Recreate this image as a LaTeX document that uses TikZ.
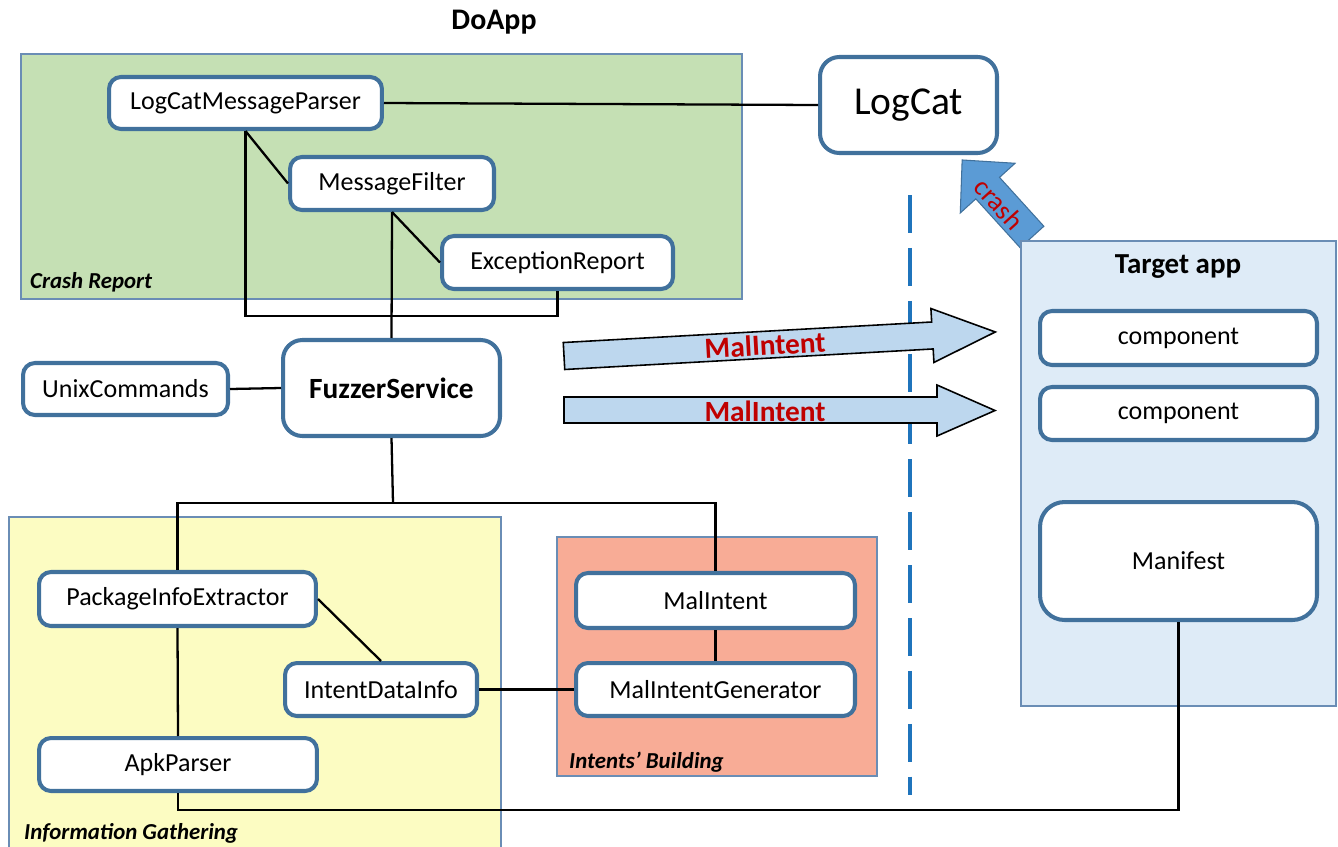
\documentclass[tikz,border=0pt]{standalone}
\usepackage{fontspec}
\setmainfont{Carlito}
\definecolor{boxblue}{HTML}{41719C}
\definecolor{areaedge}{HTML}{6A8DB5}
\definecolor{crashgreen}{HTML}{C5E0B4}
\definecolor{infoyellow}{HTML}{FCFCC2}
\definecolor{intentred}{HTML}{F8AC96}
\definecolor{targetblue}{HTML}{DEEBF7}
\definecolor{arrowblue}{HTML}{BDD7EE}
\definecolor{crashblue}{HTML}{5B9BD5}
\definecolor{dashblue}{HTML}{1F74BC}
\definecolor{crashred}{HTML}{C00000}

\begin{document}
\begin{tikzpicture}
[x=0.02cm,y=-0.02cm,
 bluebox/.style={draw=boxblue,line width=2.3pt,rounded corners=6.8pt,fill=white,inner sep=0pt,font=\fontsize{14.8}{17}\selectfont},
 bigbox/.style={bluebox,rounded corners=11pt},
 area/.style={draw=areaedge,line width=0.8pt},
 arealabel/.style={anchor=west,font=\fontsize{13}{15}\selectfont\bfseries\itshape},
 blackline/.style={black,line width=1.3pt},
 bluedash/.style={dashblue,line width=2.3pt,dash pattern=on 21.6pt off 8.5pt},
 msgarrow/.style={draw=black,line width=0.9pt,fill=arrowblue},
 msglabel/.style={font=\fontsize{16.7}{19}\selectfont\bfseries,text=crashred}]

\useasboundingbox (0,0) rectangle (1338,846);

% title
\node[font=\fontsize{17}{20}\selectfont\bfseries](title) at (494,22){DoApp};

% areas
\draw[area,fill=crashgreen] (21,54) rectangle (742,299);
\node[arealabel](reportlbl) at (24,282){Crash Report};
\draw[area,fill=infoyellow] (9,517) rectangle (501,852);
\node[arealabel](infolbl) at (18,833){Information Gathering};
\draw[area,fill=intentred] (557,537) rectangle (877,776);
\node[arealabel](buildlbl) at (563,762){Intents’ Building};

% crash arrow (under the target app)
\begin{scope}[shift={(1032,237)},rotate=132.2]
\draw[draw=boxblue,line width=0.6pt,fill=crashblue] (0,-16) -- (66,-16) -- (66,-37) -- (104,0) -- (66,37) -- (66,16) -- (0,16) -- cycle;
\end{scope}
\node[rotate=-47.8,text=crashred,font=\fontsize{15.5}{18}\selectfont](crashlbl) at (999,204){crash};

% target app
\draw[area,fill=targetblue] (1021,241) rectangle (1336,706);
\node[font=\fontsize{16.5}{19}\selectfont\bfseries](targetlbl) at (1178,267){Target app};
\node[bluebox,minimum width=5.54cm,minimum height=1.08cm](comp1) at (1178.5,338){component};
\node[bluebox,minimum width=5.54cm,minimum height=1.06cm](comp2) at (1178.5,413.5){component};
\node[bluebox,rounded corners=14pt,minimum width=5.54cm,minimum height=2.36cm](manifest) at (1178.5,561){Manifest};

% crash report
\node[bluebox,minimum width=5.46cm,minimum height=1.04cm](lmp) at (245.5,103){LogCatMessageParser};
\node[bluebox,minimum width=4.08cm,minimum height=1.06cm](mf) at (392,183.5){MessageFilter};
\node[bluebox,minimum width=4.62cm,minimum height=1.06cm](er) at (557.5,262.5){ExceptionReport};
\node[bigbox,minimum width=3.54cm,minimum height=1.92cm,font=\fontsize{22.5}{26}\selectfont](logcat) at (908.5,105){LogCat};

% fuzzer
\node[bluebox,minimum width=4.10cm,minimum height=1.04cm](unix) at (125.5,389){UnixCommands};
\node[bigbox,minimum width=4.34cm,minimum height=1.92cm,font=\fontsize{16.7}{19}\selectfont\bfseries](fuzz) at (391.5,388){FuzzerService};

% information gathering
\node[bluebox,minimum width=5.54cm,minimum height=1.08cm](pie) at (177.5,599){PackageInfoExtractor};
\node[bluebox,minimum width=3.84cm,minimum height=1.06cm](idi) at (381,689.5){IntentDataInfo};
\node[bluebox,minimum width=5.56cm,minimum height=1.06cm](apk) at (178,764.5){ApkParser};

% intents building
\node[bluebox,minimum width=5.58cm,minimum height=1.10cm](mi) at (715.5,600.5){MalIntent};
\node[bluebox,minimum width=5.58cm,minimum height=1.06cm](mig) at (715.5,689.5){MalIntentGenerator};

% links
\coordinate (crjoin) at (393,316);
\coordinate (fzjoin) at (393,503);
\coordinate (apkjoin) at (700,810);
\draw[blackline] (lmp.east) -- (logcat.west);
\draw[blackline] (lmp.south) -- (mf.west);
\draw[blackline] (mf.south) -- (er.west);
\draw[blackline] (lmp.south) |- (crjoin) -| (er.south);
\draw[blackline] (mf.south) -- (fuzz.north);
\draw[blackline] (unix.east) -- (fuzz.west);
\draw[blackline] (fuzz.south) -- (fzjoin);
\draw[blackline] (pie.north) |- (fzjoin) -| (mi.north);
\draw[blackline] (pie.east) -- (idi.north);
\draw[blackline] (pie.south) -- (apk.north);
\draw[blackline] (idi.east) -- (mig.west);
\draw[blackline] (mi.south) -- (mig.north);
\draw[blackline] (apk.south) |- (apkjoin) -| (manifest.south);

% device border
\coordinate (dashtop) at (910,195);
\coordinate (dashbot) at (910,795);
\draw[bluedash] (dashtop) -- (dashbot);

% MalIntent arrows
\begin{scope}[shift={(564,356)},rotate=3.19]
\draw[msgarrow] (0,-13.5) -- (369,-13.5) -- (369,-27) -- (432,0) -- (369,27) -- (369,13.5) -- (0,13.5) -- cycle;
\end{scope}
\node[msglabel,rotate=3.19](msg1) at (765,345){MalIntent};
\draw[msgarrow] (564,397) -- (937,397) -- (937,385) -- (995,410.5) -- (937,436) -- (937,423) -- (564,423) -- cycle;
\node[msglabel](msg2) at (765,411){MalIntent};

\end{tikzpicture}
\end{document}
